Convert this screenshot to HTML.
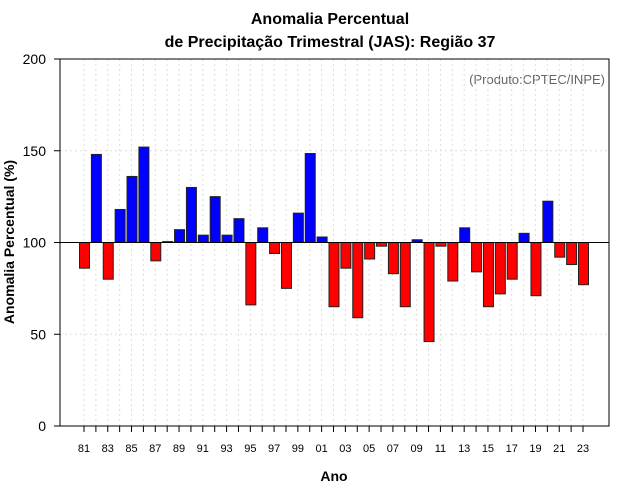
<!DOCTYPE html>
<html><head><meta charset="utf-8"><style>
body{margin:0;background:#fff}
svg{display:block;font-family:"Liberation Sans",sans-serif}
</style></head><body>
<svg id="c" width="640" height="500" xmlns="http://www.w3.org/2000/svg">
<text x="330" y="24" text-anchor="middle" font-size="16" font-weight="bold">Anomalia Percentual</text>
<text x="330" y="47" text-anchor="middle" font-size="16" font-weight="bold">de Precipitação Trimestral (JAS): Região 37</text>
<text x="605" y="84" text-anchor="end" font-size="13" fill="#666">(Produto:CPTEC/INPE)</text>
<text x="334" y="481" text-anchor="middle" font-size="14" font-weight="bold">Ano</text>
<text transform="translate(14,242) rotate(-90)" text-anchor="middle" font-size="14" font-weight="bold">Anomalia Percentual (%)</text>
<g id="grid"></g><g id="bars"></g><g id="axes"></g>
<rect x="60" y="59" width="549" height="367" fill="none" stroke="#000"/>
</svg>
<script>
const years=[81,82,83,84,85,86,87,88,89,90,91,92,93,94,95,96,97,98,99,0,1,2,3,4,5,6,7,8,9,10,11,12,13,14,15,16,17,18,19,20,21,22,23];
const values=[86,148,80,118,136,152,90,100.5,107,130,104,125,104,113,66,108,94,75,116,148.5,103,65,86,59,91,98,83,65,101.5,46,98,79,108,84,65,72,80,105,71,122.5,92,88,77];
const yTicks=[0,50,100,150,200];
const NS="http://www.w3.org/2000/svg";
const y=v=>426-v*367/200;
const x=i=>84+i*499/42;
function mk(t,a,p){const e=document.createElementNS(NS,t);for(const k in a)e.setAttribute(k,a[k]);document.getElementById(p).appendChild(e);return e;}
yTicks.forEach(v=>{
  if(v>0&&v!==100){const g=mk('line',{x1:60,x2:609,y1:y(v),y2:y(v),stroke:'#ddd','stroke-dasharray':'2,3'},'grid');
  
  }
  const t=mk('line',{x1:54,x2:60,y1:y(v),y2:y(v),stroke:'#000'},'axes');
  
  
  const l=mk('text',{x:46,y:y(v)+5,'text-anchor':'end','font-size':14},'axes');l.textContent=v;
  
  
});
years.forEach((yr,i)=>{
  const g=mk('line',{x1:x(i),x2:x(i),y1:59,y2:426,stroke:'#ddd','stroke-dasharray':'2,3'},'grid');
  
  
  const t=mk('line',{x1:x(i),x2:x(i),y1:426,y2:432,stroke:'#000'},'axes');
  
  
  if(i%2===0){const l=mk('text',{x:x(i),y:452,'text-anchor':'middle','font-size':11},'axes');l.textContent=String(yr).padStart(2,'0');
  
  }
  const v=values[i],top=Math.min(y(v),y(100)),h=Math.abs(y(v)-y(100));
  const b=mk('rect',{x:x(i)-4.5,y:top,width:10,height:Math.max(h,0.5),fill:v>=100?'#0000ff':'#ff0000',stroke:'#222','stroke-width':1},'bars');
  
  
});
const base=mk('line',{x1:60,x2:609,y1:y(100),y2:y(100),stroke:'#000'},'axes');


</script>
</body></html>
